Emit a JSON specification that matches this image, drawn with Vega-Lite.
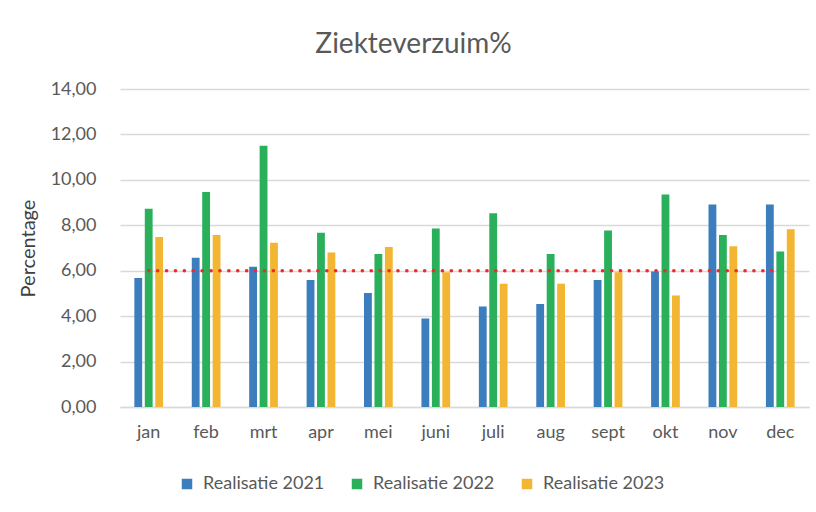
{
  "$schema": "https://vega.github.io/schema/vega-lite/v6.json",
  "width": 689,
  "height": 318,
  "padding": {"left": 18, "top": 31, "right": 8, "bottom": 10},
  "background": "white",
  "title": {"text": "Ziekteverzuim%", "fontSize": 28, "font": "Lato", "fontWeight": "normal", "color": "#595959", "offset": 21, "anchor": "middle", "frame": "bounds"},
  "config": {
    "font": "Lato",
    "view": {"stroke": null}
  },
  "datasets": {
    "bars": [
      {"maand": "jan", "reeks": "Realisatie 2021", "waarde": 5.68},
      {"maand": "jan", "reeks": "Realisatie 2022", "waarde": 8.73},
      {"maand": "jan", "reeks": "Realisatie 2023", "waarde": 7.48},
      {"maand": "feb", "reeks": "Realisatie 2021", "waarde": 6.57},
      {"maand": "feb", "reeks": "Realisatie 2022", "waarde": 9.47},
      {"maand": "feb", "reeks": "Realisatie 2023", "waarde": 7.57},
      {"maand": "mrt", "reeks": "Realisatie 2021", "waarde": 6.18},
      {"maand": "mrt", "reeks": "Realisatie 2022", "waarde": 11.5},
      {"maand": "mrt", "reeks": "Realisatie 2023", "waarde": 7.23},
      {"maand": "apr", "reeks": "Realisatie 2021", "waarde": 5.59},
      {"maand": "apr", "reeks": "Realisatie 2022", "waarde": 7.67},
      {"maand": "apr", "reeks": "Realisatie 2023", "waarde": 6.8},
      {"maand": "mei", "reeks": "Realisatie 2021", "waarde": 5.02},
      {"maand": "mei", "reeks": "Realisatie 2022", "waarde": 6.74},
      {"maand": "mei", "reeks": "Realisatie 2023", "waarde": 7.04},
      {"maand": "juni", "reeks": "Realisatie 2021", "waarde": 3.9},
      {"maand": "juni", "reeks": "Realisatie 2022", "waarde": 7.86},
      {"maand": "juni", "reeks": "Realisatie 2023", "waarde": 5.93},
      {"maand": "juli", "reeks": "Realisatie 2021", "waarde": 4.42},
      {"maand": "juli", "reeks": "Realisatie 2022", "waarde": 8.53},
      {"maand": "juli", "reeks": "Realisatie 2023", "waarde": 5.43},
      {"maand": "aug", "reeks": "Realisatie 2021", "waarde": 4.53},
      {"maand": "aug", "reeks": "Realisatie 2022", "waarde": 6.74},
      {"maand": "aug", "reeks": "Realisatie 2023", "waarde": 5.43},
      {"maand": "sept", "reeks": "Realisatie 2021", "waarde": 5.59},
      {"maand": "sept", "reeks": "Realisatie 2022", "waarde": 7.77},
      {"maand": "sept", "reeks": "Realisatie 2023", "waarde": 5.93},
      {"maand": "okt", "reeks": "Realisatie 2021", "waarde": 5.97},
      {"maand": "okt", "reeks": "Realisatie 2022", "waarde": 9.35},
      {"maand": "okt", "reeks": "Realisatie 2023", "waarde": 4.91},
      {"maand": "nov", "reeks": "Realisatie 2021", "waarde": 8.92},
      {"maand": "nov", "reeks": "Realisatie 2022", "waarde": 7.57},
      {"maand": "nov", "reeks": "Realisatie 2023", "waarde": 7.08},
      {"maand": "dec", "reeks": "Realisatie 2021", "waarde": 8.92},
      {"maand": "dec", "reeks": "Realisatie 2022", "waarde": 6.85},
      {"maand": "dec", "reeks": "Realisatie 2023", "waarde": 7.82}
    ],
    "norm": [
      {"maand": "jan", "norm": 6}, {"maand": "feb", "norm": 6}, {"maand": "mrt", "norm": 6},
      {"maand": "apr", "norm": 6}, {"maand": "mei", "norm": 6}, {"maand": "juni", "norm": 6},
      {"maand": "juli", "norm": 6}, {"maand": "aug", "norm": 6}, {"maand": "sept", "norm": 6},
      {"maand": "okt", "norm": 6}, {"maand": "nov", "norm": 6}, {"maand": "dec", "norm": 6}
    ]
  },
  "layer": [
    {
      "data": {"name": "bars"},
      "mark": {"type": "bar"},
      "encoding": {
        "x": {
          "field": "maand", "type": "nominal",
          "sort": ["jan", "feb", "mrt", "apr", "mei", "juni", "juli", "aug", "sept", "okt", "nov", "dec"],
          "scale": {"paddingInner": 0.5, "paddingOuter": 0.25},
          "axis": {"title": null, "labelAngle": 0, "labelFontSize": 18, "labelColor": "#595959", "labelPadding": 16, "ticks": false, "domainColor": "#d9d9d9", "domainWidth": 1.5, "grid": false}
        },
        "xOffset": {"field": "reeks", "type": "nominal", "scale": {"paddingInner": 0.25}},
        "y": {
          "field": "waarde", "type": "quantitative",
          "scale": {"domain": [0, 14], "nice": false},
          "axis": {
            "title": "Percentage", "titleFontSize": 20, "titleFontWeight": "normal", "titleColor": "#404040", "titlePadding": 12,
            "values": [0, 2, 4, 6, 8, 10, 12, 14],
            "labelExpr": "replace(format(datum.value, '.2f'), '.', ',')",
            "labelFontSize": 18, "labelColor": "#595959", "labelPadding": 24,
            "domain": false, "ticks": false, "gridColor": "#d9d9d9", "gridWidth": 1.5
          }
        },
        "color": {
          "field": "reeks", "type": "nominal",
          "scale": {"domain": ["Realisatie 2021", "Realisatie 2022", "Realisatie 2023"], "range": ["#3b7dbd", "#2aaf5b", "#f2b632"]},
          "legend": {
            "title": null, "orient": "none", "direction": "horizontal", "legendX": 58, "legendY": 386,
            "symbolType": "square", "symbolSize": 110, "symbolStrokeWidth": 0, "symbolOpacity": 1,
            "labelFontSize": 18, "labelColor": "#595959", "labelOffset": 7, "columnPadding": 23
          }
        }
      }
    },
    {
      "data": {"name": "norm"},
      "mark": {"type": "line", "strokeDash": [0.1, 8.8], "strokeCap": "round", "strokeWidth": 3.6, "color": "#ee2a2a"},
      "encoding": {
        "x": {"field": "maand", "type": "nominal", "sort": ["jan", "feb", "mrt", "apr", "mei", "juni", "juli", "aug", "sept", "okt", "nov", "dec"]},
        "y": {"field": "norm", "type": "quantitative"}
      }
    }
  ]
}
